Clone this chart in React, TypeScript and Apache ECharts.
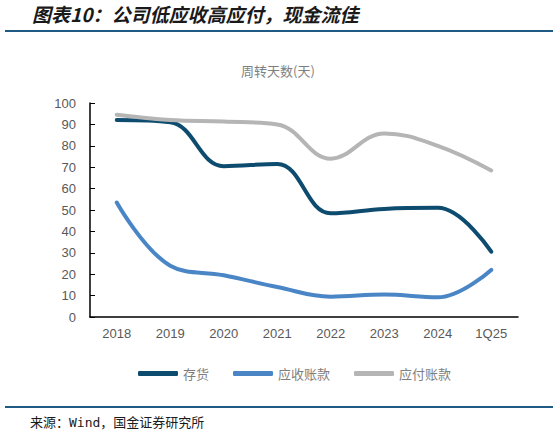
import React, { useEffect, useRef } from 'react';
import * as echarts from 'echarts';

const categories = ['2018', '2019', '2020', '2021', '2022', '2023', '2024', '1Q25'];
const inventoryDays = [92, 91, 70.5, 71.5, 48.5, 50.5, 51, 30.5];
const receivableDays = [53.5, 24, 19.5, 14, 9.5, 10.5, 9.2, 22];
const payableDays = [94.5, 92, 91.3, 90, 74, 85.8, 80, 68.5];

const seriesNames = ['存货', '应收账款', '应付账款'];
const colors = ['#0d4b6f', '#4a86c6', '#b5b5b5'];

const titleText = '图表10：公司低应收高应付，现金流佳';
const subtitleText = '周转天数(天)';
const sourceText = '来源：Wind，国金证券研究所';

const App: React.FC = () => {
  const chartRef = useRef<HTMLDivElement>(null);

  useEffect(() => {
    const chart = echarts.init(chartRef.current!, undefined, { renderer: 'svg' });

    const values = [inventoryDays, receivableDays, payableDays];

    const options = {
      animation: false,
      backgroundColor: '#ffffff',
      color: colors,
      title: {
        text: subtitleText,
        left: 273,
        top: 59,
        textAlign: 'center',
        textStyle: {
          fontFamily: 'Noto Sans CJK SC',
          fontSize: 13,
          fontWeight: 'normal',
          color: '#7f7f7f',
        },
      },
      graphic: [
        {
          type: 'text',
          left: 32,
          top: 4,
          style: {
            text: titleText,
            fontFamily: 'Noto Sans CJK SC',
            fontSize: 19,
            fontWeight: 'bold',
            fontStyle: 'italic',
            fill: '#1a1a1a',
          },
        },
        {
          type: 'line',
          shape: { x1: 5, y1: 31, x2: 553, y2: 31 },
          style: { stroke: '#1f5a85', lineWidth: 2 },
        },
        {
          type: 'line',
          shape: { x1: 5, y1: 407, x2: 553, y2: 407 },
          style: { stroke: '#1f5a85', lineWidth: 2 },
        },
        {
          type: 'text',
          left: 30,
          top: 416,
          style: {
            text: sourceText,
            fontFamily: 'DejaVu Sans Mono, Noto Sans CJK SC',
            fontSize: 13,
            fill: '#1a1a1a',
          },
        },
      ],
      legend: {
        data: seriesNames,
        left: 133,
        top: 362,
        icon: 'roundRect',
        itemWidth: 40,
        itemHeight: 5,
        itemGap: 24,
        textStyle: {
          fontFamily: 'Noto Sans CJK SC',
          fontSize: 13,
          color: '#7f7f7f',
        },
      },
      grid: {
        left: 90,
        right: 41,
        top: 103,
        bottom: 118,
      },
      xAxis: {
        type: 'category',
        data: categories,
        boundaryGap: true,
        axisLine: { lineStyle: { color: '#000000', width: 1.5 } },
        axisTick: { inside: true, length: 5, lineStyle: { color: '#000000' } },
        axisLabel: {
          fontFamily: 'Liberation Sans',
          fontSize: 13,
          color: '#595959',
          margin: 10,
        },
      },
      yAxis: {
        type: 'value',
        min: 0,
        max: 100,
        interval: 10,
        splitLine: { show: false },
        axisLine: { show: true, lineStyle: { color: '#000000', width: 1.5 } },
        axisTick: { show: true, inside: true, length: 5, lineStyle: { color: '#000000' } },
        axisLabel: {
          fontFamily: 'Liberation Sans',
          fontSize: 13,
          color: '#595959',
          margin: 14,
        },
      },
      series: seriesNames.map((name, i) => ({
        name,
        type: 'line',
        data: values[i],
        smooth: 0.4,
        showSymbol: false,
        symbol: 'none',
        lineStyle: { width: 4, color: colors[i], cap: 'round' },
        itemStyle: { color: colors[i] },
      })),
    };

    chart.setOption(options);

    return () => {
      chart.dispose();
    };
  }, []);

  return (
    <div
      ref={chartRef}
      style={{ position: 'absolute', left: 0, top: 0, width: '559px', height: '435px' }}
    />
  );
};

export default App;
